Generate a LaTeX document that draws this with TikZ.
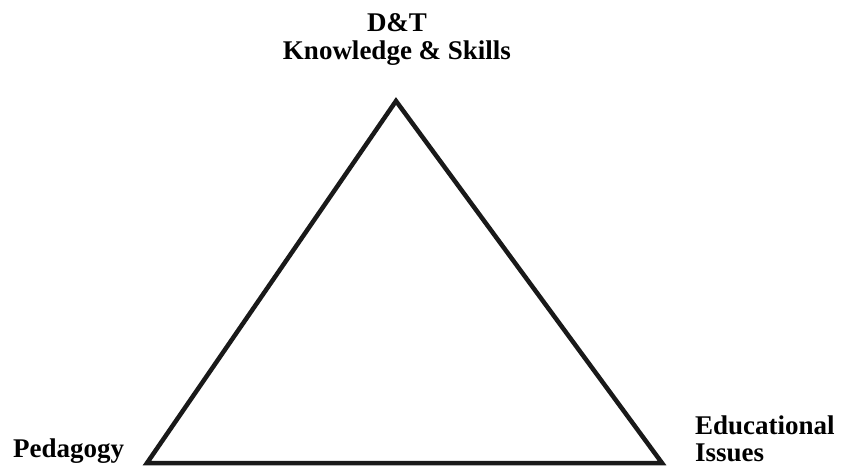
\documentclass[tikz,border=0pt]{standalone}
\usepackage{fontspec}
\setmainfont{Liberation Serif}
\tikzset{
  lbl/.style={font=\fontsize{27}{27}\selectfont\bfseries, inner sep=0pt, align=left},
  tri/.style={line width=4.5pt, line join=miter, draw=black!90}
}
\begin{document}
\begin{tikzpicture}[x=1pt,y=-1pt]
\useasboundingbox (0,0) rectangle (841,468);
\coordinate (A) at (396,101);
\coordinate (B) at (147,463);
\coordinate (C) at (662,463);
\draw[tri] (A) -- (B) -- (C) -- cycle;
\node[lbl, anchor=base, align=center] (top) at (397,60) {D\&T\\[1pt]Knowledge \& Skills};
\node[lbl, anchor=base west] (ped) at (13,457) {Pedagogy};
\node[lbl, anchor=base west, align=left] (edu) at (695,461) {Educational\\[0pt]Issues};
\end{tikzpicture}
\end{document}
